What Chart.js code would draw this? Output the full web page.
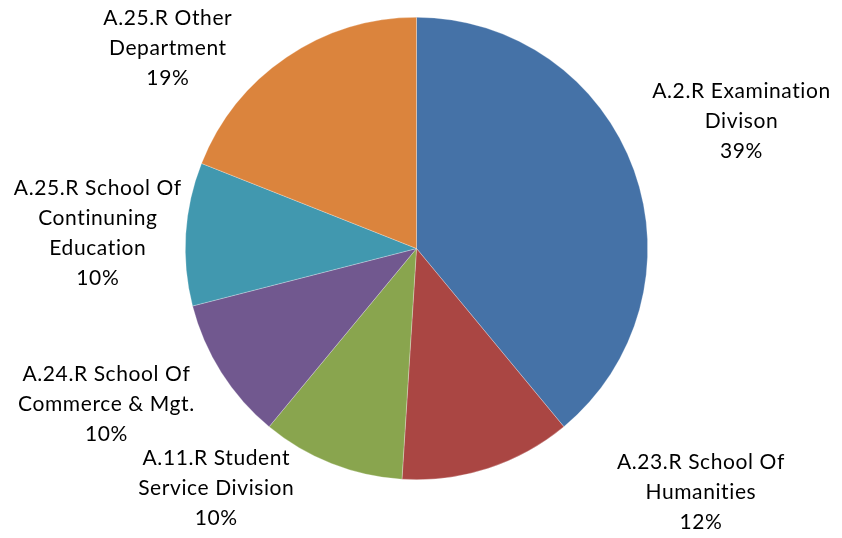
<!DOCTYPE html>
<html>
<head>
<meta charset="utf-8">
<script src="https://cdn.jsdelivr.net/npm/chart.js@4/dist/chart.umd.min.js"></script>
<style>
  html, body { margin: 0; padding: 0; background: #ffffff; }
  #wrap { width: 842px; height: 538px; position: relative; }
</style>
</head>
<body>
<div id="wrap"><canvas id="c" width="842" height="538"></canvas></div>
<script>
// Share of records by department
const categories = [
  ["A.2.R Examination", "Divison"],
  ["A.23.R School Of", "Humanities"],
  ["A.11.R Student", "Service Division"],
  ["A.24.R School Of", "Commerce & Mgt."],
  ["A.25.R School Of", "Continuning", "Education"],
  ["A.25.R Other", "Department"]
];
const shares = [39, 12, 10, 10, 10, 19];
const percentLabels = ["39%", "12%", "10%", "10%", "10%", "19%"];
const colors = ["#4572A7", "#AA4643", "#89A54E", "#71588F", "#4198AF", "#DB843D"];

// Label placement: shift (degrees) from the slice's middle angle, and distance as a multiple of the radius
const labelAngleShift = [-1.6, -31.4, 18.3, 5.8, -0.8, -17.0];
const labelDistance = [1.51, 1.62, 1.35, 1.50, 1.38, 1.38];

const FONT = '21px Lato, "Open Sans", sans-serif';
const LINE_H = 30;

const outsideLabels = {
  id: 'outsideLabels',
  afterDatasetsDraw(chart) {
    const ctx = chart.ctx;
    const meta = chart.getDatasetMeta(0);
    ctx.save();
    ctx.font = FONT;
    // a little tracking widens the text and keeps letters unjoined
    ctx.letterSpacing = '0.6px';
    ctx.fillStyle = '#000000';
    ctx.textAlign = 'center';
    ctx.textBaseline = 'middle';
    meta.data.forEach((arc, i) => {
      const p = arc.getProps(['x', 'y', 'startAngle', 'endAngle', 'outerRadius'], true);
      const mid = (p.startAngle + p.endAngle) / 2 + labelAngleShift[i] * Math.PI / 180;
      const r = p.outerRadius * labelDistance[i];
      const cx = p.x + Math.cos(mid) * r;
      const cy = p.y + Math.sin(mid) * r;
      const lines = categories[i].concat([percentLabels[i]]);
      const top = cy - (lines.length - 1) * LINE_H / 2;
      lines.forEach((t, k) => ctx.fillText(t, cx, top + k * LINE_H));
    });
    ctx.restore();
  }
};

new Chart(document.getElementById('c'), {
  type: 'pie',
  data: {
    labels: categories.map(c => c.join(' ')),
    datasets: [{
      data: shares,
      backgroundColor: colors,
      borderColor: 'rgba(255,255,255,0.45)',
      borderWidth: 0.6
    }]
  },
  options: {
    responsive: false,
    animation: false,
    devicePixelRatio: 1,
    layout: { padding: { top: 17, bottom: 58, left: 0, right: 9 } },
    plugins: {
      legend: { display: false },
      tooltip: { enabled: false }
    }
  },
  plugins: [outsideLabels]
});
</script>
</body>
</html>
